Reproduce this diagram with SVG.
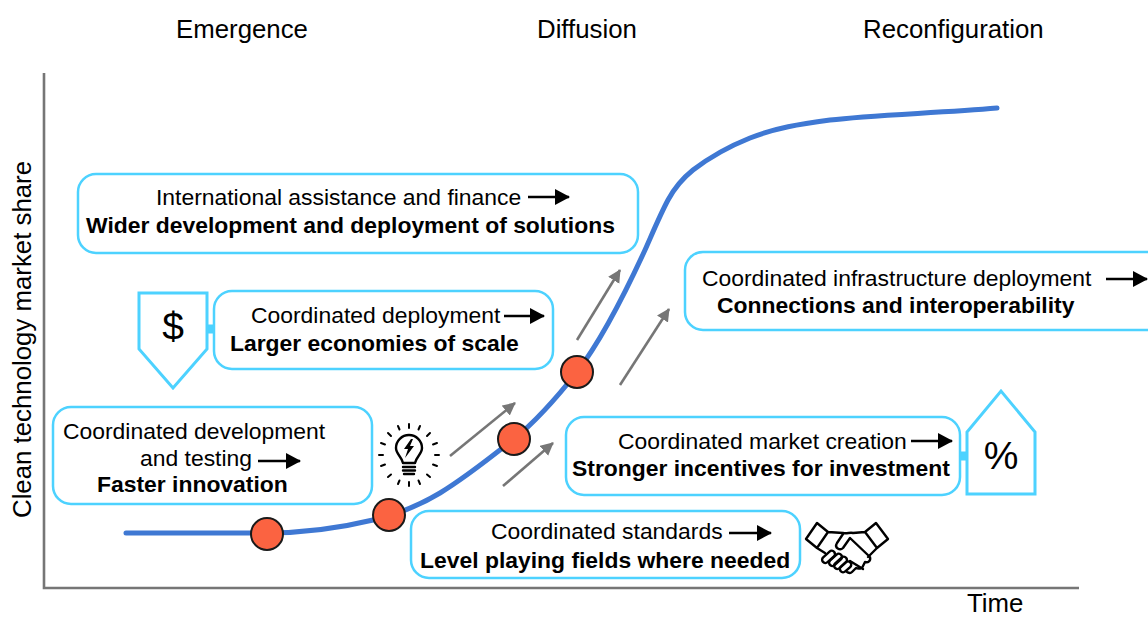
<svg xmlns="http://www.w3.org/2000/svg" width="1148" height="618" viewBox="0 0 1148 618">
<style>
text{font-family:"Liberation Sans",Arial,sans-serif;font-size:22.9px;fill:#000}
.b{font-weight:bold}
.h{font-size:25.8px}
.box{fill:#fff;stroke:#4dd2ff;stroke-width:2.5}
.tag{fill:#fff;stroke:#4dd2ff;stroke-width:3;stroke-linejoin:miter}
.dot{fill:#fb6341;stroke:#1a1a1a;stroke-width:2}
.ga{stroke:#767676;stroke-width:2.6;fill:none;marker-end:url(#g)}
.ka{stroke:#000;stroke-width:2.4;fill:none;marker-end:url(#k)}
.ic{fill:none;stroke:#000;stroke-width:2.4;stroke-linejoin:round;stroke-linecap:round}
.ray{fill:none;stroke:#000;stroke-width:2;stroke-linecap:round}
</style>
<defs>
<marker id="g" markerUnits="userSpaceOnUse" markerWidth="14" markerHeight="14" refX="12" refY="6.5" orient="auto"><path d="M0 0L13 6.5L0 13Z" fill="#767676"/></marker>
<marker id="k" markerUnits="userSpaceOnUse" markerWidth="16" markerHeight="18" refX="14" refY="8" orient="auto"><path d="M0 0L15 8L0 16Z" fill="#000"/></marker>
</defs>
<rect width="1148" height="618" fill="#fff"/>
<text id="phase-emergence" class="h" x="176" y="38">Emergence</text>
<text id="phase-diffusion" class="h" x="537" y="38">Diffusion</text>
<text id="phase-reconfiguration" class="h" x="863" y="38">Reconfiguration</text>
<g id="axes">
<path d="M44 73V588H1079" fill="none" stroke="#767676" stroke-width="2.6"/>
<text class="h" transform="translate(31 518) rotate(-90)">Clean technology market share</text>
<text class="h" x="967" y="612">Time</text>
</g>
<g id="connectors">
<path id="s-curve" d="M126 533H266C300 533 340 528 373 520C395 515 420 505 440 493C465 478 490 458 514 439C535 422 555 400 577 372C600 342 622 300 645 250C653 232 660 215 668 200C675 187 683 178 693 170C710 157 730 146 750 138C775 128 800 124 830 120C870 115 940 113 997 108" fill="none" stroke="#3f78d3" stroke-width="5" stroke-linecap="round"/>
<path class="ga" d="M450 456L515 403"/>
<path class="ga" d="M503 486L553 443"/>
<path class="ga" d="M577 340L620 270"/>
<path class="ga" d="M620 385L669 309"/>
<path d="M206 329H216M960 456H968" stroke="#4dd2ff" stroke-width="9" fill="none"/>
</g>
<g id="dots">
<circle class="dot" cx="267" cy="534" r="16"/>
<circle class="dot" cx="389" cy="515" r="16"/>
<circle class="dot" cx="514" cy="439" r="16"/>
<circle class="dot" cx="577" cy="372" r="16"/>
</g>
<g id="node-finance">
<rect class="box" x="78" y="174" width="560" height="79" rx="18"/>
<text x="156" y="205">International assistance and finance</text>
<path class="ka" d="M528 197H569"/>
<text class="b" x="86" y="233">Wider development and deployment of solutions</text>
</g>
<g id="node-deployment">
<rect class="box" x="214" y="291" width="339" height="78" rx="18"/>
<text x="251" y="323">Coordinated deployment</text>
<path class="ka" d="M504 316H544"/>
<text class="b" x="230" y="351">Larger economies of scale</text>
</g>
<g id="node-dollar">
<path class="tag" d="M139 293H207V349L173 388L139 349Z"/>
<text x="173" y="340" text-anchor="middle" style="font-size:39px">$</text>
</g>
<g id="node-development">
<rect class="box" x="53" y="407" width="319" height="97" rx="18"/>
<text x="63" y="439">Coordinated development</text>
<text x="140" y="466">and testing</text>
<path class="ka" d="M258 461H300"/>
<text class="b" x="97" y="492">Faster innovation</text>
</g>
<g id="node-bulb">
<path class="ic" d="M403 467H415M403 470.500H415M404 474H414M403 463C402 457 396 454 396 448A13 13 0 0 1 422 448C422 454 416 457 415 463Z"/>
<path d="M411 439L404 449H408L405 458L414 446H410L413 439Z" fill="#000"/>
<path class="ray" d="M409 424v4M420 426l-1.500 3.500M398 426l1.500 3.500M430 433l-3 3M388 433l3 3M437 443l-4 1.500M381 443l4 1.500M439 455h-4M379 455h4M437 466l-4-1.500M381 466l4-1.500M430 477l-3-2.500M388 477l3-2.500M420 484l-1.500-3.500M398 484l1.500-3.500M409 486v-4"/>
</g>
<g id="node-infrastructure">
<rect class="box" x="685" y="252" width="490" height="78" rx="18"/>
<text x="702" y="286">Coordinated infrastructure deployment</text>
<path class="ka" d="M1106 279H1147"/>
<text class="b" x="717" y="313">Connections and interoperability</text>
</g>
<g id="node-market">
<rect class="box" x="566" y="417" width="394" height="78" rx="18"/>
<text x="618" y="449">Coordinated market creation</text>
<path class="ka" d="M911 441H952"/>
<text class="b" x="572" y="476">Stronger incentives for investment</text>
</g>
<g id="node-percent">
<path class="tag" d="M967 494V432L1001 391L1035 432V494Z"/>
<text x="1001" y="469" text-anchor="middle" style="font-size:39px">%</text>
</g>
<g id="node-standards">
<rect class="box" x="411" y="511" width="389" height="67" rx="18"/>
<text x="491" y="539">Coordinated standards</text>
<path class="ka" d="M729 533H771"/>
<text class="b" x="420" y="568">Level playing fields where needed</text>
</g>
<g id="node-handshake">
<path class="ic" d="M817 523L828 532L817 548L806 539ZM876 523L888 539L877 548L865 532ZM828 532L843 533C847 534 850 532 853 533L865 532M843 534L837 543C834 548 840 551 843 548L850 538L870 557C871 561 868 563 865 562L862 568C859 569 858 569 856 568L852 572C850 574 849 573 847 572M868 557L877 548M817 548L825 553M850 561L863 569"/>
<g class="ic"><rect x="821" y="554" width="15" height="6.500" rx="3.200" transform="rotate(-42 828 557)"/><rect x="828" y="557" width="15" height="6.500" rx="3.200" transform="rotate(-42 835 560)"/><rect x="833" y="560" width="15" height="6.500" rx="3.200" transform="rotate(-42 840 563)"/><rect x="839" y="564" width="13" height="6.500" rx="3.200" transform="rotate(-42 845 567)"/></g>
</g>
</svg>
